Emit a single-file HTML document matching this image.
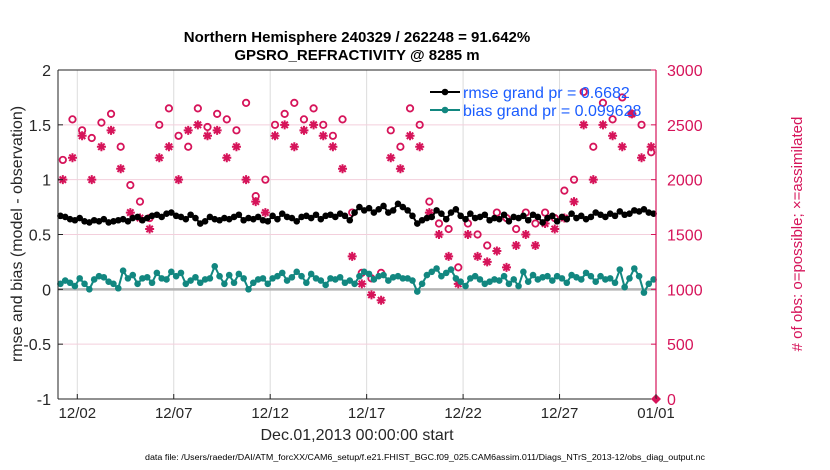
<!DOCTYPE html>
<html><head><meta charset="utf-8"><style>
body{margin:0;background:#fff;width:830px;height:470px;overflow:hidden}
text{font-family:"Liberation Sans",Arial,sans-serif}
</style></head><body>
<svg id="chart" width="830" height="470" xmlns="http://www.w3.org/2000/svg" style="position:absolute;left:0;top:0">
<g id="grid"></g><g id="marks"></g><g id="axes"></g>
</svg>
<script>
const xTickLabels=["12/02","12/07","12/12","12/17","12/22","12/27","01/01"];
const xTickDays=[1,6,11,16,21,26,31];
const leftTicks=[-1,-0.5,0,0.5,1,1.5,2];
const rightTicks=[0,500,1000,1500,2000,2500,3000];
const rmse=[0.67,0.66,0.64,0.63,0.65,0.62,0.61,0.63,0.62,0.64,0.61,0.62,0.63,0.64,0.62,0.65,0.66,0.63,0.65,0.67,0.68,0.66,0.69,0.7,0.67,0.66,0.64,0.68,0.65,0.6,0.62,0.66,0.64,0.63,0.65,0.64,0.66,0.68,0.63,0.65,0.64,0.66,0.63,0.62,0.67,0.64,0.69,0.66,0.65,0.62,0.66,0.67,0.65,0.68,0.64,0.67,0.68,0.66,0.69,0.67,0.63,0.7,0.75,0.72,0.74,0.7,0.73,0.76,0.7,0.72,0.78,0.75,0.72,0.67,0.6,0.63,0.65,0.66,0.72,0.69,0.64,0.7,0.73,0.67,0.64,0.69,0.65,0.66,0.68,0.63,0.65,0.64,0.68,0.62,0.66,0.65,0.67,0.63,0.68,0.66,0.61,0.65,0.67,0.62,0.66,0.64,0.69,0.65,0.67,0.64,0.66,0.7,0.68,0.66,0.69,0.67,0.71,0.68,0.69,0.72,0.71,0.73,0.7,0.69];
const bias=[0.05,0.08,0.06,0.03,0.1,0.05,0.0,0.09,0.12,0.11,0.07,0.05,0.01,0.17,0.1,0.13,0.05,0.1,0.11,0.06,0.15,0.1,0.09,0.16,0.12,0.15,0.05,0.08,0.11,0.06,0.09,0.1,0.21,0.12,0.05,0.13,0.06,0.14,0.1,0.0,0.06,0.09,0.1,0.05,0.1,0.12,0.15,0.08,0.11,0.16,0.12,0.06,0.14,0.1,0.08,0.04,0.1,0.09,0.11,0.06,0.08,0.05,0.12,0.16,0.14,0.09,0.12,0.13,0.08,0.11,0.12,0.1,0.1,0.08,-0.02,0.05,0.13,0.16,0.19,0.12,0.15,0.18,0.1,0.07,0.03,0.1,0.12,0.09,0.05,0.07,0.09,0.08,0.12,0.05,0.09,0.03,0.16,0.07,0.13,0.09,0.11,0.12,0.08,0.12,0.1,0.06,0.13,0.11,0.09,0.15,0.12,0.07,0.12,0.09,0.1,0.06,0.18,0.02,0.1,0.19,0.12,-0.03,0.05,0.09];
const possible=[2180,2550,2450,2380,2520,2600,2300,1950,1800,1650,2500,2650,2400,2300,2650,2480,2600,2550,2450,2700,1850,2000,2500,2600,2700,2550,2650,2500,2400,2550,1700,1150,1100,1150,2450,2300,2650,2500,1800,1600,1550,1200,1600,1500,1400,1700,1650,1550,1700,1600,1700,1650,1900,2000,2800,2300,2700,2550,2750,2600,2500,2250];
const assimilated=[2000,2200,2400,2000,2300,2450,2100,1700,1650,1550,2200,2300,2000,2450,2500,2400,2450,2200,2300,2000,1800,1700,2400,2500,2300,2450,2500,2400,2300,2100,1300,1050,950,900,2200,2100,2400,2300,1700,1500,1300,1050,1500,1300,1250,1350,1200,1400,1500,1400,1600,1550,1650,1800,2500,2000,2500,2400,2300,2600,2200,2300];
const legendLabels=["rmse grand pr = 0.6682","bias grand pr = 0.099628"];

const X0=58,X1=656,YT=70,YB=399;
const xs=d=>X0+(d/31)*(X1-X0);
const yl=v=>YB-(v+1)/3*(YB-YT);
const yr=v=>YB-v/3000*(YB-YT);
const NS="http://www.w3.org/2000/svg";
function mk(parent,tag,attrs){const e=document.createElementNS(NS,tag);for(const k in attrs)e.setAttribute(k,attrs[k]);document.getElementById(parent).appendChild(e);return e;}

xTickDays.forEach(d=>{const l=mk('grid','line',{x1:xs(d),x2:xs(d),y1:YT,y2:YB,stroke:'#dcdcdc','stroke-width':1});

});
rightTicks.forEach(v=>{const l=mk('grid','line',{x1:X0,x2:X1,y1:yr(v),y2:yr(v),stroke:'#f3cfdc','stroke-width':1});

});
const zl=mk('grid','line',{x1:X0,x2:X1,y1:yl(0),y2:yl(0),stroke:'#b4b4b4','stroke-width':2.5});



possible.forEach((v,i)=>{const c=mk('marks','circle',{cx:xs(i*0.5+0.25),cy:yr(v),r:3.2,fill:'none',stroke:'#d6145a','stroke-width':1.8});

});
assimilated.forEach((v,i)=>{const x=xs(i*0.5+0.25),y=yr(v),r=4.5,q=3.2;
 const p=mk('marks','path',{d:`M${x-r} ${y}H${x+r}M${x} ${y-r}V${y+r}M${x-q} ${y-q}L${x+q} ${y+q}M${x-q} ${y+q}L${x+q} ${y-q}`,stroke:'#d6145a','stroke-width':2,fill:'none'});
 
 });

function series(arr,color,name){
 const pts=arr.map((v,i)=>xs(i*0.25+0.125)+','+yl(v)).join(' ');
 const p=mk('marks','polyline',{points:pts,fill:'none',stroke:color,'stroke-width':2});
 
 
 arr.forEach((v,i)=>{const c=mk('marks','circle',{cx:xs(i*0.25+0.125),cy:yl(v),r:3.3,fill:color});
 
 });
}
series(rmse,'#000','rmse');
series(bias,'#128780','bias');

const ax=[['line',{x1:X0,x2:X0,y1:YT,y2:YB,stroke:'#222','stroke-width':1}],['line',{x1:X0,x2:X1,y1:YB,y2:YB,stroke:'#222','stroke-width':1}],['line',{x1:X1,x2:X1,y1:YT,y2:YB,stroke:'#d6145a','stroke-width':1.2}],['line',{x1:X0,x2:X1,y1:YT,y2:YT,stroke:'#222','stroke-width':1}]];
ax.forEach(a=>{const e=mk('axes',a[0],a[1]);

});
const dm=mk('axes','path',{d:`M${X1} ${YB-5}L${X1+5} ${YB}L${X1} ${YB+5}L${X1-5} ${YB}Z`,fill:'#d6145a'});


xTickDays.forEach((d,i)=>{mk('axes','line',{x1:xs(d),x2:xs(d),y1:YB,y2:YB-5,stroke:'#222'});
 const t=mk('axes','text',{x:xs(d),y:418,'text-anchor':'middle','font-size':15,fill:'#262626'});t.textContent=xTickLabels[i];
 
 });
leftTicks.forEach(v=>{mk('axes','line',{x1:X0,x2:X0+5,y1:yl(v),y2:yl(v),stroke:'#222'});
 const t=mk('axes','text',{x:51,y:yl(v)+6,'text-anchor':'end','font-size':16,fill:'#262626'});t.textContent=String(v);
 
 });
rightTicks.forEach(v=>{mk('axes','line',{x1:X1,x2:X1-5,y1:yr(v),y2:yr(v),stroke:'#d6145a'});
 const t=mk('axes','text',{x:667,y:yr(v)+6,'font-size':16,fill:'#d6145a'});t.textContent=String(v);
 
 });

[['#000',92],['#128780',110]].forEach((c,i)=>{
 const l=mk('axes','line',{x1:430,x2:460,y1:c[1],y2:c[1],stroke:c[0],'stroke-width':2});
 
 
 mk('axes','circle',{cx:445,cy:c[1],r:3.3,fill:c[0]});
 const t=mk('axes','text',{x:463,y:c[1]+6,'font-size':16,fill:'#1a5cff'});t.textContent=legendLabels[i];
 
 
});
</script>
<svg style="position:absolute;left:0;top:0" width="830" height="470" xmlns="http://www.w3.org/2000/svg">
<text x="357" y="42" text-anchor="middle" font-size="15" font-weight="bold" fill="#000">Northern Hemisphere 240329 / 262248 = 91.642%</text>
<text x="357" y="60" text-anchor="middle" font-size="15" font-weight="bold" fill="#000">GPSRO_REFRACTIVITY @ 8285 m</text>
<text x="357" y="440" text-anchor="middle" font-size="16" fill="#262626">Dec.01,2013 00:00:00 start</text>
<text transform="translate(22,234) rotate(-90)" text-anchor="middle" font-size="16" fill="#262626">rmse and bias (model - observation)</text>
<text transform="translate(802,234) rotate(-90)" text-anchor="middle" font-size="15" fill="#d6145a"># of obs: o=possible; ×=assimilated</text>
<text x="425" y="460" text-anchor="middle" font-size="8.6" fill="#000" textLength="560" lengthAdjust="spacingAndGlyphs">data file: /Users/raeder/DAI/ATM_forcXX/CAM6_setup/f.e21.FHIST_BGC.f09_025.CAM6assim.011/Diags_NTrS_2013-12/obs_diag_output.nc</text>
</svg>
</body></html>
